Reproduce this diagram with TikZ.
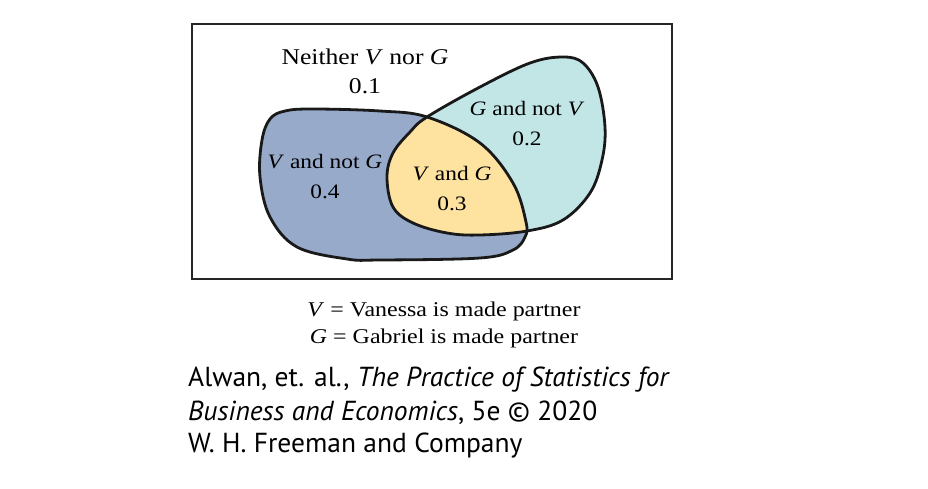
\documentclass[tikz,border=0pt]{standalone}
\usepackage{fontspec}
\setmainfont{Liberation Serif}[FakeStretch=1.14]
\newfontfamily\credfont{PT Sans}
\definecolor{vblue}{RGB}{151,170,202}
\definecolor{gcyan}{RGB}{194,230,230}
\definecolor{vgyel}{RGB}{254,226,160}
\begin{document}
\begin{tikzpicture}[x=1pt,y=-1pt,
  lab/.style={font=\fontsize{20.5}{26}\selectfont, align=center, inner sep=0pt},
  toplab/.style={lab, font=\fontsize{22.5}{26}\selectfont},
  leg/.style={font=\fontsize{21}{26.5}\selectfont, align=center, inner sep=0pt},
  cred/.style={font=\credfont\fontsize{27.5}{32}\selectfont, anchor=west, inner sep=0pt},
  blob/.style={line width=2.8pt, draw=black!90, line join=round}]
\useasboundingbox (0,0) rectangle (928,489);
\fill[white] (0,0) rectangle (928,489);
\def\Vpath{plot[smooth cycle, tension=0.6] coordinates {(262,140) (270,119) (285,111) (313,109) (380,111) (427,117) (480,143) (513,183) (526,222) (525,237) (513,250) (480,258) (380,260) (347,259) (297,247) (270,217) (260,177)}}
\def\Gpath{plot[smooth cycle, tension=0.6] coordinates {(427,117) (480,87) (530,63) (563,57) (583,63) (598,87) (605,127) (602,160) (590,193) (563,220) (527,231) (480,235) (447,233) (413,223) (393,207) (387,177) (393,153) (410,132)}}
\draw[line width=1.3pt, draw=black!85] (192,24) rectangle (672,279);
\fill[vblue] \Vpath;
\fill[gcyan] \Gpath;
\begin{scope}
  \clip \Vpath;
  \fill[vgyel] \Gpath;
\end{scope}
\draw[blob] \Gpath;
\draw[blob] \Vpath;
\node[toplab] (neither) at (365,71) {Neither \textit{V} nor \textit{G}\\[3pt]0.1};
\node[lab] (gnv) at (527,124) {\textit{G} and not \textit{V}\\[4pt]0.2};
\node[lab] (vng) at (325,177) {\textit{V} and not \textit{G}\\[4pt]0.4};
\node[lab] (vg) at (452,189) {\textit{V} and \textit{G}\\[4pt]0.3};
\node[leg] (legend) at (444,325) {\textit{V} = Vanessa is made partner\\\textit{G} = Gabriel is made partner};
\node[cred] (c1) at (188,380) {Alwan, et. al., \textit{The Practice of Statistics for}};
\node[cred] (c2) at (188,413) {\textit{Business and Economics}, 5e \textcopyright{} 2020};
\node[cred] (c3) at (188,446) {W. H. Freeman and Company};
\end{tikzpicture}
\end{document}
